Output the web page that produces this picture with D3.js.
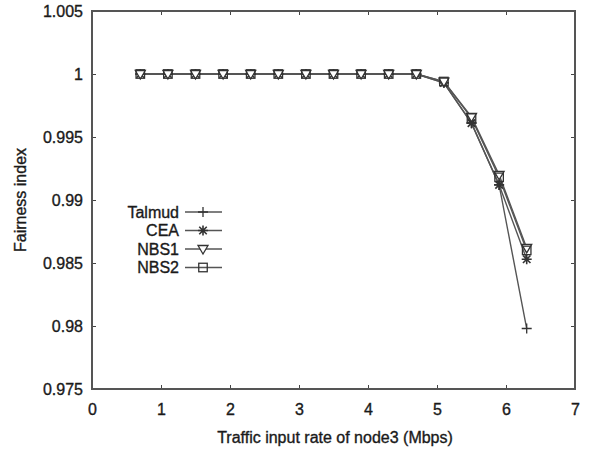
<!DOCTYPE html>
<html>
<head>
<meta charset="utf-8">
<script src="https://cdn.jsdelivr.net/npm/d3@7"></script>
<style>
  html, body { margin: 0; padding: 0; background: #fff; }
  svg { display: block; }
  text { font-family: "Liberation Sans", Arial, sans-serif; fill: #1a1a1a; stroke: #1a1a1a; stroke-width: 0.35px; }
</style>
</head>
<body>
<svg id="chart" width="590" height="449"></svg>
<script>
// Traffic input rate of node3 (Mbps)
const rates = [0.7, 1.1, 1.5, 1.9, 2.3, 2.7, 3.1, 3.5, 3.9, 4.3, 4.7, 5.1, 5.5, 5.9, 6.3];

// Fairness index per allocation scheme
const talmud = [1, 1, 1, 1, 1, 1, 1, 1, 1, 1, 1, 0.9993, 0.9961, 0.9912, 0.9798];
const cea    = [1, 1, 1, 1, 1, 1, 1, 1, 1, 1, 1, 0.9993, 0.9961, 0.9912, 0.9853];
const nbs1   = [1, 1, 1, 1, 1, 1, 1, 1, 1, 1, 1, 0.9994, 0.9966, 0.9920, 0.9862];
const nbs2   = [1, 1, 1, 1, 1, 1, 1, 1, 1, 1, 1, 0.9994, 0.9965, 0.9918, 0.9860];

const seriesNames = ["Talmud", "CEA", "NBS1", "NBS2"];
const seriesValues = [talmud, cea, nbs1, nbs2];
const markerKinds = ["plus", "star", "triangle", "square"];

const xTicks = [0, 1, 2, 3, 4, 5, 6, 7];
const yTicks = [0.975, 0.98, 0.985, 0.99, 0.995, 1, 1.005];

const svg = d3.select("#chart");
const frame = { left: 92, right: 575, top: 11, bottom: 389 };

const x = d3.scaleLinear().domain([0, 7]).range([frame.left, frame.right]);
const y = d3.scaleLinear().domain([0.975, 1.005]).range([frame.bottom, frame.top]);

const ink = "#444";
const fontSize = 16;

// Axes: ticks point inward, mirrored on the opposite sides
const tickLen = 4;
const fmtY = v => (v === 1 ? "1" : d3.format(".3~f")(v));

svg.append("g")
  .attr("transform", `translate(0,${frame.bottom})`)
  .call(d3.axisBottom(x).tickValues(xTicks).tickSize(-tickLen).tickPadding(14).tickFormat(d3.format("d")))
  .call(g => g.select(".domain").remove())
  .call(g => g.selectAll(".tick line").attr("stroke", ink))
  .call(g => g.selectAll(".tick text").attr("font-size", fontSize).attr("fill", "#1a1a1a")
    .attr("font-family", "Liberation Sans, Arial, sans-serif").attr("dy", "0.72em"));

svg.append("g")
  .attr("transform", `translate(0,${frame.top})`)
  .call(d3.axisTop(x).tickValues(xTicks).tickSize(-tickLen).tickFormat(""))
  .call(g => g.select(".domain").remove())
  .call(g => g.selectAll(".tick line").attr("stroke", ink));

svg.append("g")
  .attr("transform", `translate(${frame.left},0)`)
  .call(d3.axisLeft(y).tickValues(yTicks).tickSize(-tickLen).tickPadding(9).tickFormat(fmtY))
  .call(g => g.select(".domain").remove())
  .call(g => g.selectAll(".tick line").attr("stroke", ink))
  .call(g => g.selectAll(".tick text").attr("font-size", fontSize).attr("fill", "#1a1a1a")
    .attr("font-family", "Liberation Sans, Arial, sans-serif"));

svg.append("g")
  .attr("transform", `translate(${frame.right},0)`)
  .call(d3.axisRight(y).tickValues(yTicks).tickSize(-tickLen).tickFormat(""))
  .call(g => g.select(".domain").remove())
  .call(g => g.selectAll(".tick line").attr("stroke", ink));

// Plot border
svg.append("rect")
  .attr("x", frame.left).attr("y", frame.top)
  .attr("width", frame.right - frame.left).attr("height", frame.bottom - frame.top)
  .attr("fill", "none").attr("stroke", "#555").attr("stroke-width", 2);

// Axis titles
svg.append("text")
  .attr("x", 335).attr("y", 437).attr("dy", "0.35em")
  .attr("text-anchor", "middle").attr("font-size", fontSize)
  .text("Traffic input rate of node3 (Mbps)");

svg.append("text")
  .attr("transform", `translate(20,${(frame.top + frame.bottom) / 2}) rotate(-90)`)
  .attr("dy", "0.35em")
  .attr("text-anchor", "middle").attr("font-size", fontSize)
  .text("Fairness index");

// Point markers in the gnuplot style
function drawMarker(g, kind, cx, cy) {
  const s = 5;
  const st = { stroke: "#333", "stroke-width": 1.3, fill: "none" };
  const apply = sel => { Object.entries(st).forEach(([k, v]) => sel.attr(k, v)); return sel; };
  if (kind === "plus") {
    apply(g.append("path").attr("d", `M${cx - s},${cy}H${cx + s}M${cx},${cy - s}V${cy + s}`));
  } else if (kind === "star") {
    const d = s * 0.75;
    apply(g.append("path").attr("d",
      `M${cx - s},${cy}H${cx + s}M${cx},${cy - s}V${cy + s}` +
      `M${cx - d},${cy - d}L${cx + d},${cy + d}M${cx - d},${cy + d}L${cx + d},${cy - d}`))
      .attr("stroke-width", 1.6);
  } else if (kind === "triangle") {
    apply(g.append("path").attr("d",
      `M${cx - s},${cy - s * 0.7}L${cx + s},${cy - s * 0.7}L${cx},${cy + s}Z`)).attr("fill", "#fff");
  } else if (kind === "square") {
    apply(g.append("rect").attr("x", cx - s * 0.85).attr("y", cy - s * 0.85)
      .attr("width", s * 1.7).attr("height", s * 1.7));
  }
}

const line = d3.line().x((d, i) => x(rates[i])).y(d => y(d));

const plot = svg.append("g");
seriesValues.forEach((vals) => {
  plot.append("path")
    .datum(vals)
    .attr("d", line)
    .attr("fill", "none")
    .attr("stroke", "#555")
    .attr("stroke-width", 1.4);
});
seriesValues.forEach((vals, k) => {
  const g = plot.append("g");
  vals.forEach((v, i) => drawMarker(g, markerKinds[k], x(rates[i]), y(v)));
});

// Legend
const legend = svg.append("g");
const legendTop = 212, legendStep = 18.5;
seriesNames.forEach((name, k) => {
  const ly = legendTop + k * legendStep;
  legend.append("text")
    .attr("x", 179).attr("y", ly).attr("dy", "0.36em")
    .attr("text-anchor", "end").attr("font-size", fontSize)
    .text(name);
  legend.append("line")
    .attr("x1", 185).attr("x2", 222).attr("y1", ly).attr("y2", ly)
    .attr("stroke", "#555").attr("stroke-width", 1.4);
  drawMarker(legend.append("g"), markerKinds[k], 203, ly);
});
</script>
</body>
</html>
